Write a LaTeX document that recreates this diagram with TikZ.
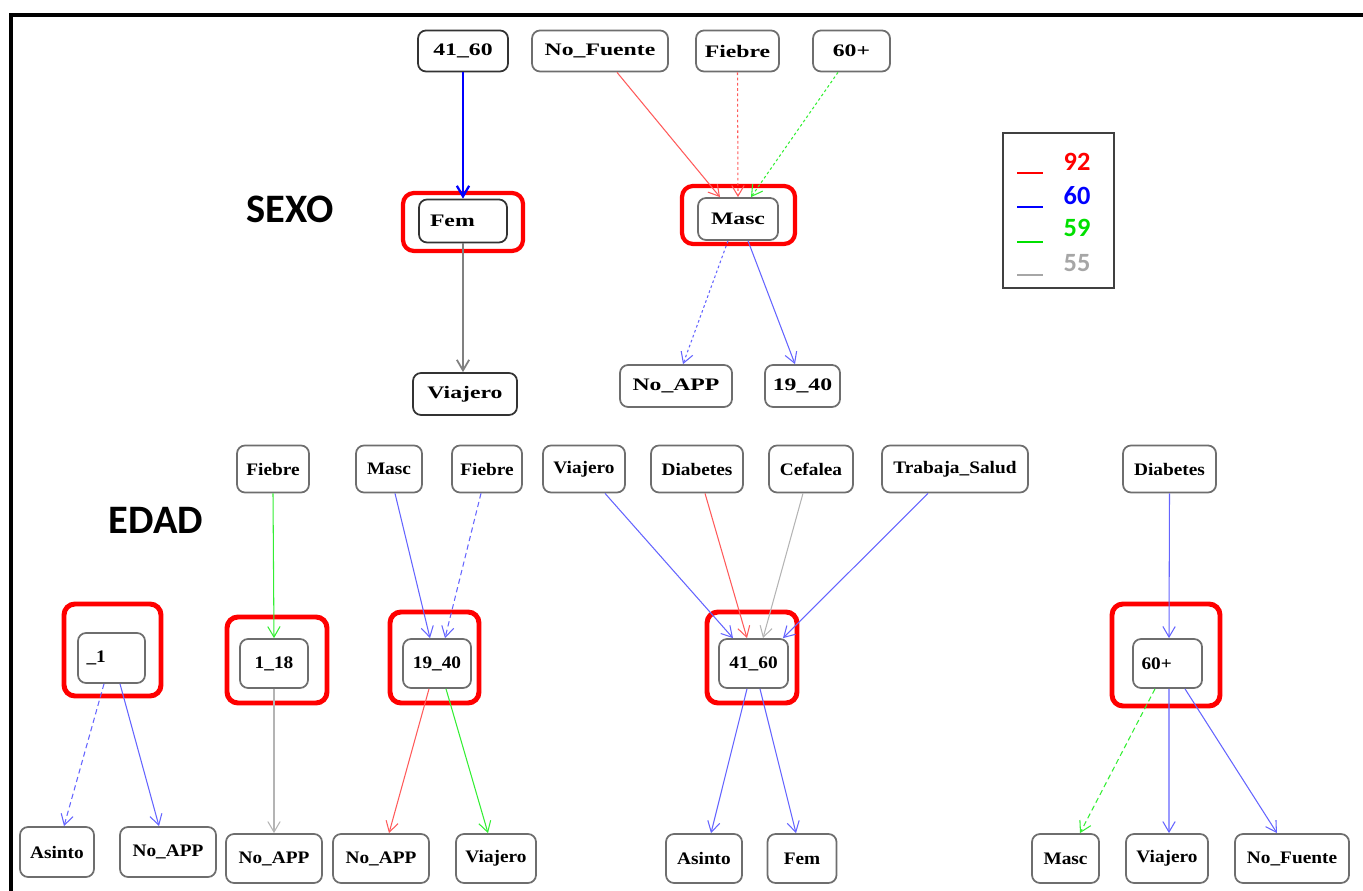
\documentclass[tikz,border=0pt]{standalone}
\usepackage{fontspec}
\usetikzlibrary{arrows.meta}
\newfontfamily\topfont[FakeStretch=1.35]{Liberation Serif}
\newfontfamily\boxfont[FakeStretch=1.1]{Liberation Serif}
\newfontfamily\labfont{Carlito}
\definecolor{boxgray}{HTML}{6E6E6E}
\definecolor{ered}{HTML}{FF5A5A}
\definecolor{eblue}{HTML}{6464FF}
\definecolor{egreen}{HTML}{33EE33}
\definecolor{egray}{HTML}{B4B4B4}
\definecolor{lgreen}{HTML}{00E000}
\definecolor{lgray}{HTML}{A6A6A6}
\tikzset{
  box/.style={draw=boxgray, line width=1pt, rounded corners=0.16cm, fill=white, inner sep=0pt,
    font=\boxfont\bfseries\fontsize{10}{12}\selectfont},
  topbox/.style={box, font=\topfont\bfseries\fontsize{10}{12}\selectfont},
  bx/.style 2 args={minimum width=#1*0.02cm, minimum height=#2*0.02cm},
  hl/.style={draw=red, line width=2.8pt, rounded corners=0.22cm},
  dotd/.style={dash pattern=on 1.5pt off 1.5pt},
  dshd/.style={dash pattern=on 3pt off 2pt},
  lab/.style={font=\labfont\bfseries\fontsize{23}{26}\selectfont},
  lgnum/.style={font=\labfont\bfseries\fontsize{15}{17}\selectfont, inner sep=0pt}
}
\begin{document}
\begin{tikzpicture}[x=0.02cm,y=-0.02cm,>={Straight Barb[length=6pt,width=7pt]},line width=0.6pt]
\useasboundingbox (0,0) rectangle (1363,891);
\draw[line width=2.8pt] (11,891) -- (11,15) -- (1363,15);

% SEXO
\node[lab] (sexo) at (290,209) {SEXO};
\node[topbox,bx={90}{41},draw=black!80] (s41) at (463,51) {41\_60};
\node[topbox,bx={136}{41}] (snof) at (600,51) {No\_Fuente};
\node[topbox,bx={83}{41}] (sfie) at (737.5,51) {Fiebre};
\node[topbox,bx={77}{41}] (s60) at (851.5,51) {60+};
\draw[hl,line width=2.4pt] (403,193) rectangle (523,251);
\draw[hl,line width=2.4pt] (682,186) rectangle (795,244);
\node[topbox,bx={88}{43},draw=black!80,text width=66*0.02cm] (sfem) at (463,221) {Fem};
\node[topbox,bx={80}{42}] (smasc) at (738,219) {Masc};
\node[topbox,bx={104}{42},draw=black!80] (sviaj) at (465,394) {Viajero};
\node[topbox,bx={112}{42}] (snoapp) at (676,386) {No\_APP};
\node[topbox,bx={75}{42}] (s1940) at (802.5,386) {19\_40};

\draw[->,blue,line width=1.3pt] (s41.south) -- (sfem.north);
\draw[->,ered] ([xshift=17*0.02cm]snof.south) -- ([xshift=-18*0.02cm]smasc.north);
\draw[->,ered,dotd] (sfie.south) -- (smasc.north);
\draw[->,egreen,dotd] ([xshift=-13.5*0.02cm]s60.south) -- ([xshift=13*0.02cm]smasc.north);
\draw[->,gray,line width=1pt] (sfem.south) -- ([xshift=-2*0.02cm]sviaj.north);
\draw[->,eblue,dotd] ([xshift=-10*0.02cm]smasc.south) -- ([xshift=7*0.02cm]snoapp.north);
\draw[->,eblue] ([xshift=10*0.02cm]smasc.south) -- ([xshift=-7.5*0.02cm]s1940.north);

% legend
\draw[black!75,line width=0.9pt] (1003,133) rectangle (1114,288);
\draw[red,line width=1.3pt] (1017,173) -- (1043,173);
\draw[blue,line width=1.3pt] (1017,207) -- (1043,207);
\draw[lgreen,line width=1.3pt] (1017,242) -- (1043,242);
\draw[lgray,line width=1.3pt] (1017,275) -- (1043,275);
\node[lgnum,text=red] (lg92) at (1077,162) {92};
\node[lgnum,text=blue] (lg60) at (1077,196) {60};
\node[lgnum,text=lgreen] (lg59) at (1077,228) {59};
\node[lgnum,text=lgray] (lg55) at (1077,263) {55};

% EDAD
\node[lab] (edad) at (156,520) {EDAD};
\node[box,bx={72}{47}] (efie1) at (273,469) {Fiebre};
\node[box,bx={66}{47}] (emasc) at (389,469) {Masc};
\node[box,bx={70}{47}] (efie2) at (487,469) {Fiebre};
\node[box,bx={82}{47}] (eviaj) at (584,469) {Viajero};
\node[box,bx={92}{47}] (ediab) at (697,469) {Diabetes};
\node[box,bx={84}{47}] (ecef) at (811,469) {Cefalea};
\node[box,bx={146}{47}] (etrab) at (955,469) {Trabaja\_Salud};
\node[box,bx={93}{47}] (ediab2) at (1169.5,469) {Diabetes};

\draw[hl] (64,604) rectangle (161,696);
\draw[hl] (227,617) rectangle (327,703);
\draw[hl] (390,612) rectangle (479,703);
\draw[hl] (707,612) rectangle (797,703);
\draw[hl] (1112,604) rectangle (1220,706);
\node[box,bx={67}{50},text width=50*0.02cm] (e1) at (111.5,658) {\_1};
\node[box,bx={68}{49}] (e118) at (274,663.5) {1\_18};
\node[box,bx={68}{49}] (e1940) at (437,663.5) {19\_40};
\node[box,bx={69}{49}] (e4160) at (753.5,663.5) {41\_60};
\node[box,bx={69}{49},text width=52*0.02cm] (e60) at (1167.5,663.5) {60+};

\node[box,bx={74}{50}] (easin) at (57,852) {Asinto};
\node[box,bx={96}{50}] (enoapp1) at (168,852) {No\_APP};
\node[box,bx={96}{49}] (enoapp2) at (274,858.5) {No\_APP};
\node[box,bx={96}{49}] (enoapp3) at (381,858.5) {No\_APP};
\node[box,bx={80}{49}] (eviaj2) at (496,858.5) {Viajero};
\node[box,bx={76}{49}] (easin2) at (704,858.5) {Asinto};
\node[box,bx={69}{49}] (efem) at (802,858.5) {Fem};
\node[box,bx={67}{49}] (emasc2) at (1065.5,858.5) {Masc};
\node[box,bx={82}{49}] (eviaj3) at (1167,858.5) {Viajero};
\node[box,bx={114}{49}] (enof) at (1292,858.5) {No\_Fuente};

\draw[->,egreen] (efie1.south) -- (e118.north);
\draw[->,eblue] ([xshift=6*0.02cm]emasc.south) -- ([xshift=-7*0.02cm]e1940.north);
\draw[->,eblue,dshd] ([xshift=-6*0.02cm]efie2.south) -- ([xshift=8*0.02cm]e1940.north);
\draw[->,eblue] ([xshift=21*0.02cm]eviaj.south) -- ([xshift=-20.5*0.02cm]e4160.north);
\draw[->,ered] ([xshift=8*0.02cm]ediab.south) -- ([xshift=-6.5*0.02cm]e4160.north);
\draw[->,egray] ([xshift=-8*0.02cm]ecef.south) -- ([xshift=9.5*0.02cm]e4160.north);
\draw[->,eblue] ([xshift=-27*0.02cm]etrab.south) -- ([xshift=29.5*0.02cm]e4160.north);
\draw[->,eblue] (ediab2.south) -- ([xshift=1.5*0.02cm]e60.north);

\draw[->,eblue,dshd] ([xshift=-7.5*0.02cm]e1.south) -- ([xshift=7*0.02cm]easin.north);
\draw[->,eblue] ([xshift=8.5*0.02cm]e1.south) -- ([xshift=-9*0.02cm]enoapp1.north);
\draw[->,egray] (e118.south) -- (enoapp2.north);
\draw[->,ered] ([xshift=-8*0.02cm]e1940.south) -- ([xshift=8*0.02cm]enoapp3.north);
\draw[->,egreen] ([xshift=9*0.02cm]e1940.south) -- ([xshift=-8*0.02cm]eviaj2.north);
\draw[->,eblue] ([xshift=-6.5*0.02cm]e4160.south) -- ([xshift=7*0.02cm]easin2.north);
\draw[->,eblue] ([xshift=6.5*0.02cm]e4160.south) -- ([xshift=-6*0.02cm]efem.north);
\draw[->,egreen,dshd] ([xshift=-12.5*0.02cm]e60.south) -- ([xshift=14.5*0.02cm]emasc2.north);
\draw[->,eblue] ([xshift=1.5*0.02cm]e60.south) -- ([xshift=2*0.02cm]eviaj3.north);
\draw[->,eblue] ([xshift=17.5*0.02cm]e60.south) -- ([xshift=-15*0.02cm]enof.north);
\end{tikzpicture}
\end{document}
